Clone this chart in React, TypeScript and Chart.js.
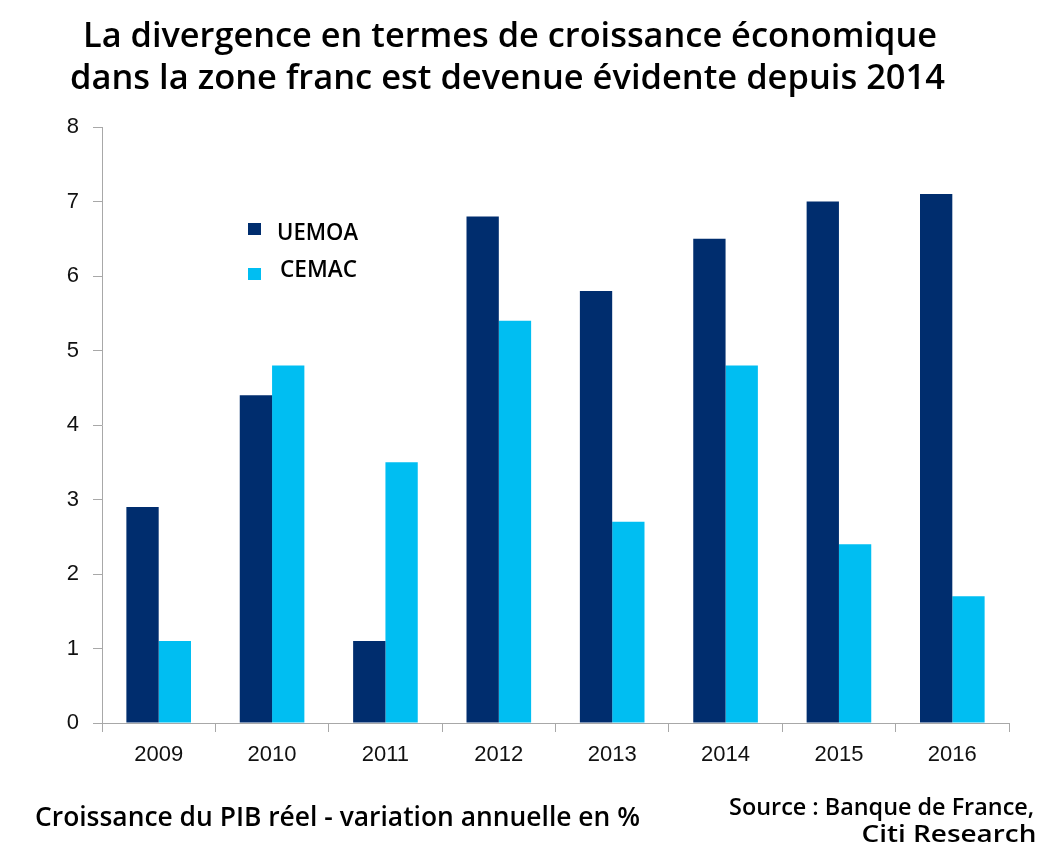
import React, { useEffect, useLayoutEffect, useRef } from "react";
import { Chart, registerables } from "chart.js";

Chart.register(...registerables);

const years = ["2009", "2010", "2011", "2012", "2013", "2014", "2015", "2016"];
const uemoa = [2.9, 4.4, 1.1, 6.8, 5.8, 6.5, 7.0, 7.1];
const cemac = [1.1, 4.8, 3.5, 5.4, 2.7, 4.8, 2.4, 1.7];
const yTicks = [0, 1, 2, 3, 4, 5, 6, 7, 8];

const titleLines = [
  "La divergence en termes de croissance économique",
  "dans la zone franc est devenue évidente depuis 2014",
];
const footerLeft = "Croissance du PIB réel - variation annuelle en %";
const sourceLines = ["Source : Banque de France,", "Citi Research"];

const NAVY = "#002D6E";
const CYAN = "#00BEF2";
const AXIS = "#a8a8a8";

type FitProps = {
  text: string;
  left?: number;
  right?: number;
  baseline: number;
  size: number;
  weight: number;
  width: number;
  family?: string;
};

function FitText({ text, left, right, baseline, size, weight, width, family }: FitProps) {
  const ref = useRef<HTMLSpanElement | null>(null);
  useLayoutEffect(() => {
    const el = ref.current;
    if (!el) return;
    el.style.transform = "none";
    const natural = el.getBoundingClientRect().width;
    if (natural > 0) el.style.transform = `scaleX(${width / natural})`;
  }, [text, width, size]);
  const style: React.CSSProperties = {
    position: "absolute",
    top: baseline - 0.888 * size,
    fontFamily: family || "'Open Sans', sans-serif",
    fontSize: size,
    fontWeight: weight,
    lineHeight: `${size}px`,
    whiteSpace: "nowrap",
    color: "#000",
    display: "inline-block",
    transformOrigin: right !== undefined ? "right top" : "left top",
  };
  if (right !== undefined) style.right = 1045 - right;
  else style.left = left;
  return (
    <span ref={ref} style={style}>
      {text}
    </span>
  );
}

export default function App() {
  const canvasRef = useRef<HTMLCanvasElement | null>(null);

  useEffect(() => {
    if (!canvasRef.current) return;
    const chart = new Chart(canvasRef.current, {
      type: "bar",
      data: {
        labels: years,
        datasets: [
          { label: "UEMOA", data: uemoa, backgroundColor: NAVY, categoryPercentage: 0.57, barPercentage: 1.0 },
          { label: "CEMAC", data: cemac, backgroundColor: CYAN, categoryPercentage: 0.57, barPercentage: 1.0 },
        ],
      },
      options: {
        animation: false,
        responsive: false,
        layout: { padding: { left: 0, top: 127, right: 36, bottom: 62 } },
        plugins: { legend: { display: false }, title: { display: false }, tooltip: { enabled: false } },
        scales: {
          x: {
            grid: { drawOnChartArea: false, drawTicks: true, tickLength: 9, color: AXIS, offset: true },
            border: { color: AXIS, width: 1 },
            ticks: {
              color: "#111",
              font: { family: "'Liberation Sans', Arial, sans-serif", size: 22 },
              padding: 10,
            },
            afterFit: (scale: any) => {
              scale.height = 60;
            },
          },
          y: {
            min: 0,
            max: 8,
            afterBuildTicks: (scale: any) => {
              scale.ticks = yTicks.map((v) => ({ value: v }));
            },
            grid: { drawOnChartArea: false, drawTicks: true, tickLength: 9, color: AXIS },
            border: { color: AXIS, width: 1 },
            ticks: {
              color: "#111",
              font: { family: "'Liberation Sans', Arial, sans-serif", size: 22 },
              padding: 14,
            },
            afterFit: (scale: any) => {
              scale.width = 102;
            },
          },
        },
      },
    });
    return () => chart.destroy();
  }, []);

  return (
    <div
      style={{
        position: "absolute",
        left: 0,
        top: 0,
        width: 1045,
        height: 845,
        overflow: "hidden",
        background: "#fff",
      }}
    >
      <canvas ref={canvasRef} width={1045} height={845} style={{ display: "block", position: "absolute", left: 0, top: 0 }} />
      <FitText text={titleLines[0]} left={83} baseline={47} size={34} weight={600} width={854} />
      <FitText text={titleLines[1]} left={70} baseline={89} size={34} weight={600} width={875} />

      <div style={{ position: "absolute", left: 248, top: 223, width: 13, height: 12, background: NAVY }} />
      <div style={{ position: "absolute", left: 248, top: 268, width: 13, height: 12, background: CYAN }} />
      <FitText text="UEMOA" left={277} baseline={240} size={23} weight={600} width={81} />
      <FitText text="CEMAC" left={280} baseline={277} size={23} weight={600} width={77} />

      <FitText text={footerLeft} left={35} baseline={826} size={27} weight={550} width={605} />
      <FitText text={sourceLines[0]} right={1034} baseline={815} size={24} weight={600} width={305} />
      <FitText text={sourceLines[1]} right={1036} baseline={842} size={24} weight={600} width={175} />
    </div>
  );
}
